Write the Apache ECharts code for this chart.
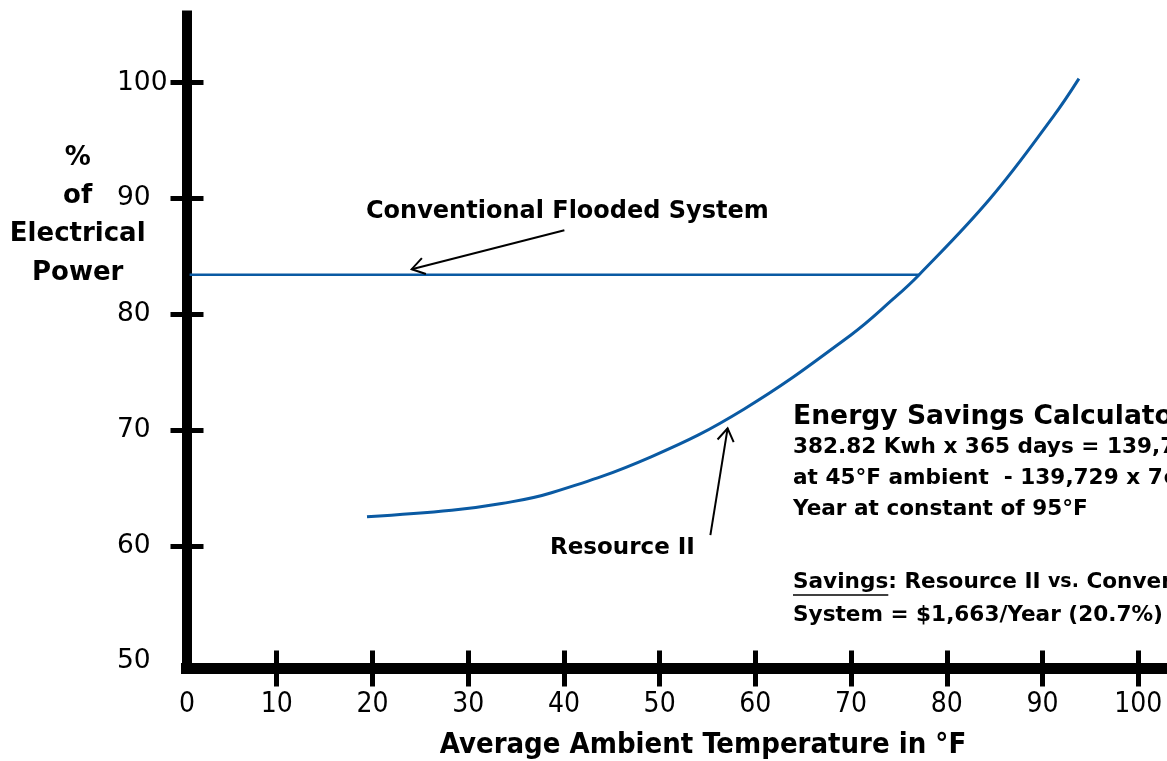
<!DOCTYPE html>
<html>
<head>
<meta charset="utf-8">
<script src="https://cdn.jsdelivr.net/npm/echarts@6/dist/echarts.min.js"></script>
<style>
html,body{margin:0;padding:0;background:#fff;}
#chart{width:1167px;height:761px;}
</style>
</head>
<body>
<div id="chart"></div>
<script>
// ---- data ----
const xTickLabels = [0, 10, 20, 30, 40, 50, 60, 70, 80, 90, 100];
const xTickMarks = [10, 20, 30, 40, 50, 60, 70, 80, 90, 100];
const yTickLabels = [50, 60, 70, 80, 90, 100];
const yTickMarks = [60, 70, 80, 90, 100];

const conventionalX = [0.9, 77.06];
const conventionalY = [83.4, 83.4];

const resourceX = [19.43, 28.28, 33.49, 38.70, 49.11, 58.80, 69.95, 74.46, 77.06, 84.53, 91.13, 93.80];
const resourceY = [62.51, 63.07, 63.65, 64.58, 67.69, 71.80, 78.19, 81.36, 83.37, 89.99, 97.09, 100.35];

// arrow annotations [from, tip]
const arrowConventional = [[40.05, 87.25], [24.1, 83.89]];
const arrowResource = [[55.3, 60.93], [57.1, 70.14]];

const calcLines = [
  '382.82 Kwh x 365 days = 139,729 Kwh/Year',
  'at 45°F ambient  - 139,729 x 7¢ = $9,781/',
  'Year at constant of 95°F'
];

// ---- styles ----
const BLUE = '#0a5aa3';
const BOLD = '"DejaVu Sans", sans-serif';
const COND = '"DejaVu Sans Condensed", "Liberation Sans Narrow", "DejaVu Sans", sans-serif';
const SMALL = 'bold 21.6px ' + BOLD;

const cnv = document.createElement('canvas').getContext('2d');
cnv.font = SMALL;
const savingsW = cnv.measureText('Savings').width;

const chart = echarts.init(document.getElementById('chart'), null, {renderer: 'canvas'});

const xBase = {
  type: 'value', min: 0, max: 103, position: 'bottom', offset: 7,
  splitLine: {show: false}
};
const yBase = {
  type: 'value', min: 50, max: 105.8, position: 'left', offset: -5.5,
  splitLine: {show: false}
};

const arrows = [arrowConventional, arrowResource];

chart.setOption({
  animation: false,
  grid: {left: 181, right: 0, top: 15.5, bottom: 99.4},
  xAxis: [
    Object.assign({}, xBase, {
      axisLine: {show: true, onZero: false, lineStyle: {color: '#000', width: 11, cap: 'butt'}},
      axisTick: {show: true, customValues: xTickMarks, length: 18, inside: false,
                 lineStyle: {color: '#000', width: 5}},
      axisLabel: {
        show: true, customValues: xTickLabels, margin: 22,
        fontFamily: COND, fontSize: 28, color: '#000',
        formatter: v => v === 0 ? '{z|0}' : String(v),
        rich: {z: {fontFamily: COND, fontSize: 28, color: '#000', padding: [0, 0, 0, 12]}}
      }
    }),
    Object.assign({}, xBase, {
      axisLine: {show: false, onZero: false},
      axisTick: {show: true, customValues: xTickMarks, length: 18, inside: true,
                 lineStyle: {color: '#000', width: 5}},
      axisLabel: {show: false}
    })
  ],
  yAxis: [
    Object.assign({}, yBase, {
      axisLine: {show: true, onZero: false, lineStyle: {color: '#000', width: 10, cap: 'square'}},
      axisTick: {show: true, customValues: yTickMarks, length: 16, inside: false,
                 lineStyle: {color: '#000', width: 5}},
      axisLabel: {show: true, customValues: yTickLabels, align: 'left', margin: 69.5,
                  fontFamily: '"DejaVu Sans", sans-serif', fontSize: 26.5, color: '#000'}
    }),
    Object.assign({}, yBase, {
      axisLine: {show: false, onZero: false},
      axisTick: {show: true, customValues: yTickMarks, length: 17, inside: true,
                 lineStyle: {color: '#000', width: 5}},
      axisLabel: {show: false}
    })
  ],
  series: [
    {
      name: 'Conventional Flooded System', type: 'line',
      xAxisIndex: 0, yAxisIndex: 0,
      data: conventionalX.map((x, i) => [x, conventionalY[i]]),
      symbol: 'none', lineStyle: {color: BLUE, width: 2.5},
      markLine: {
        silent: true, animation: false,
        symbol: ['none', 'none'],
        label: {show: false},
        lineStyle: {color: '#000', width: 2, type: 'solid'},
        emphasis: {disabled: true},
        data: arrows.map(a => [{coord: a[0]}, {coord: a[1]}])
      }
    },
    {
      name: 'Resource II', type: 'line',
      xAxisIndex: 0, yAxisIndex: 0,
      data: resourceX.map((x, i) => [x, resourceY[i]]),
      smooth: 0.4, symbol: 'none', lineStyle: {color: BLUE, width: 3}
    }
  ],
  graphic: [
    {id: 'yname', type: 'text', x: 77.7, y: 215.5, style: {
      text: '%\nof\nElectrical\nPower', font: 'bold 26px ' + BOLD, fill: '#000',
      align: 'center', verticalAlign: 'middle', lineHeight: 38.4}},
    {id: 'xname', type: 'text', x: 703, y: 745, style: {
      text: 'Average Ambient Temperature in °F', font: 'bold 29px ' + COND, fill: '#000',
      align: 'center', verticalAlign: 'middle'}},
    {id: 'lblConv', type: 'text', x: 366, y: 212, style: {
      text: 'Conventional Flooded System', font: 'bold 24px ' + BOLD, fill: '#000',
      align: 'left', verticalAlign: 'middle'}},
    {id: 'lblRes', type: 'text', x: 550, y: 548, style: {
      text: 'Resource II', font: 'bold 23px ' + BOLD, fill: '#000',
      align: 'left', verticalAlign: 'middle'}},
    {id: 'calcTitle', type: 'text', x: 793, y: 417, style: {
      text: 'Energy Savings Calculator', font: 'bold 26.6px ' + BOLD, fill: '#000',
      align: 'left', verticalAlign: 'middle'}},
    {id: 'calc1', type: 'text', x: 793, y: 447, style: {
      text: calcLines[0], font: SMALL, fill: '#000', align: 'left', verticalAlign: 'middle'}},
    {id: 'calc2', type: 'text', x: 793, y: 478.5, style: {
      text: calcLines[1], font: SMALL, fill: '#000', align: 'left', verticalAlign: 'middle'}},
    {id: 'calc3', type: 'text', x: 793, y: 509.5, style: {
      text: calcLines[2], font: SMALL, fill: '#000', align: 'left', verticalAlign: 'middle'}},
    {id: 'sav1', type: 'text', x: 793, y: 582.5, style: {
      text: '{b|Savings: Resource II }{s|vs.}{b| Conventional Flooded}',
      align: 'left', verticalAlign: 'middle',
      rich: {
        b: {font: SMALL, fill: '#000'},
        s: {font: 'bold 19px ' + BOLD, fill: '#000'}
      }}},
    {id: 'savUnder', type: 'line', shape: {x1: 793, y1: 595, x2: 793 + savingsW, y2: 595},
      style: {stroke: '#000', lineWidth: 1.3}},
    {id: 'sav2', type: 'text', x: 793, y: 615.5, style: {
      text: 'System = $1,663/Year (20.7%)', font: SMALL, fill: '#000',
      align: 'left', verticalAlign: 'middle'}}
  ]
});

// open chevron arrow heads, placed through the chart's own scales
const heads = arrows.map((a, k) => {
  const p0 = chart.convertToPixel({xAxisIndex: 0, yAxisIndex: 0}, a[0]);
  const p1 = chart.convertToPixel({xAxisIndex: 0, yAxisIndex: 0}, a[1]);
  const dx = p0[0] - p1[0], dy = p0[1] - p1[1];
  const len = Math.hypot(dx, dy);
  const ux = dx / len, uy = dy / len;
  const L = 15, th = 33 * Math.PI / 180;
  const rot = (s) => [p1[0] + L * (ux * Math.cos(s) - uy * Math.sin(s)),
                      p1[1] + L * (ux * Math.sin(s) + uy * Math.cos(s))];
  return {id: 'head' + k, type: 'polyline', shape: {points: [rot(th), p1, rot(-th)]},
          style: {stroke: '#000', lineWidth: 2, fill: null}, z: 10};
});
chart.setOption({graphic: heads});
</script>
</body>
</html>
